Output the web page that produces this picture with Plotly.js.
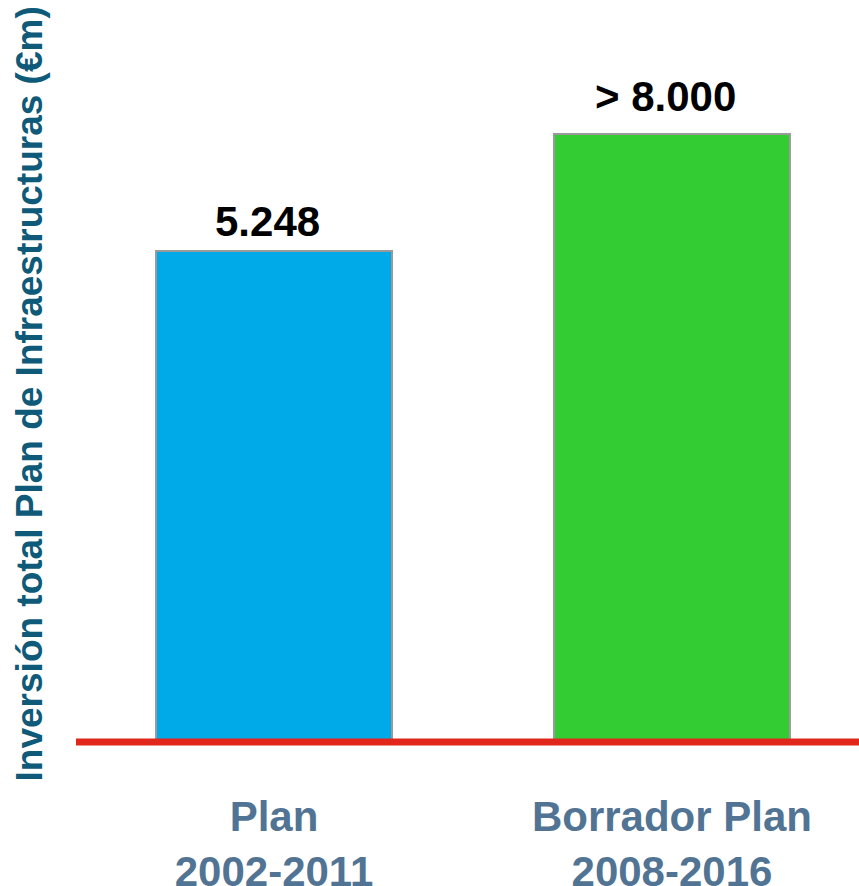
<!DOCTYPE html>
<html>
<head>
<meta charset="utf-8">
<script src="https://cdn.plot.ly/plotly-3.0.1.min.js"></script>
<style>html,body{margin:0;padding:0;background:#fff;}#chart{width:859px;height:886px;}</style>
</head>
<body>
<div id="chart"></div>
<script>
const categories = ["Plan<br>2002-2011", "Borrador Plan<br>2008-2016"];
const barHeights = [5248, 6500];
const valueLabels = ["5.248", "> 8.000"];
const barColors = ["#00A9E8", "#33CC33"];
const yTitle = "Inversión total Plan de Infraestructuras (€m)";

const trace = {
  type: "bar",
  x: categories,
  y: barHeights,
  width: 0.593,
  marker: {color: barColors, line: {color: "#9A9A9A", width: 2}},
  hoverinfo: "none"
};

const labelShifts = [13, 21];
const annotations = categories.map((c, i) => ({
  x: c, y: barHeights[i], xref: "x", yref: "y",
  text: valueLabels[i], showarrow: false,
  yanchor: "bottom", xshift: -6, yshift: labelShifts[i] - 9,
  font: {family: "Liberation Sans, Arial, sans-serif", size: 42, color: "#000000", weight: "bold"}
}));
annotations.push({
  xref: "paper", yref: "paper", x: -0.0595, y: 0.469,
  xanchor: "center", yanchor: "middle", textangle: -90,
  text: yTitle, showarrow: false,
  font: {family: "Liberation Sans, Arial, sans-serif", size: 37, color: "#0E5A78", weight: "bold"}
});

const layout = {
  width: 859, height: 886,
  margin: {l: 76, r: 0, t: 0, b: 144, pad: 0},
  paper_bgcolor: "#ffffff", plot_bgcolor: "#ffffff",
  showlegend: false,
  xaxis: {
    range: [-0.4975, 1.47],
    showgrid: false, zeroline: false, showline: false, ticks: "",
    ticklabelstandoff: 46,
    tickfont: {family: "Liberation Sans, Arial, sans-serif", size: 42, color: "#527494", weight: "bold"},
    fixedrange: true
  },
  yaxis: {
    range: [0, 7931],
    showgrid: false, zeroline: false, showline: false, showticklabels: false, ticks: "",
    fixedrange: true
  },
  shapes: [{
    type: "line", xref: "paper", yref: "paper", x0: 0, x1: 1, y0: 0, y1: 0,
    line: {color: "#E1261C", width: 7}, layer: "above"
  }],
  annotations: annotations
};

Plotly.newPlot("chart", [trace], layout, {displayModeBar: false, staticPlot: true});
</script>
</body>
</html>
